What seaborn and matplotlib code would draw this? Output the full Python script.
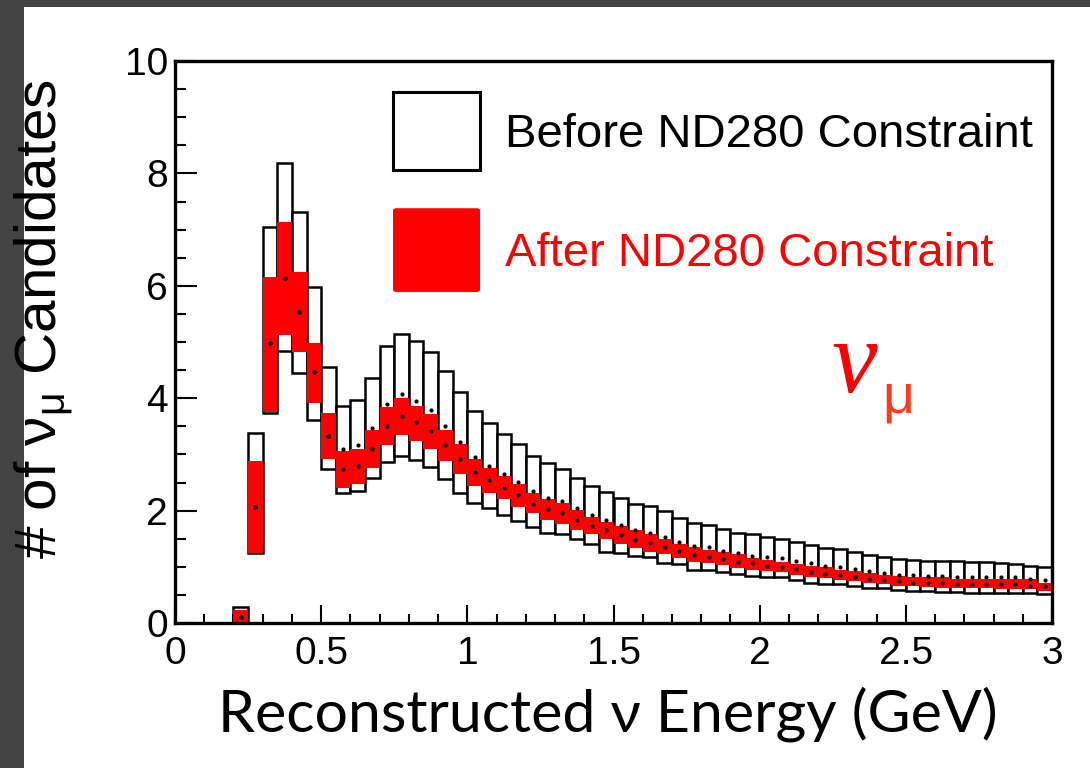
import numpy as np
import pandas as pd
import matplotlib
matplotlib.use("Agg")
import matplotlib.pyplot as plt
import seaborn as sns
from matplotlib.patches import Rectangle, FancyBboxPatch

# bin low edges (GeV), bin width 0.05
bin_low = [0.20, 0.25, 0.30, 0.35, 0.40, 0.45, 0.50, 0.55, 0.60, 0.65,
           0.70, 0.75, 0.80, 0.85, 0.90, 0.95, 1.00, 1.05, 1.10, 1.15,
           1.20, 1.25, 1.30, 1.35, 1.40, 1.45, 1.50, 1.55, 1.60, 1.65,
           1.70, 1.75, 1.80, 1.85, 1.90, 1.95, 2.00, 2.05, 2.10, 2.15,
           2.20, 2.25, 2.30, 2.35, 2.40, 2.45, 2.50, 2.55, 2.60, 2.65,
           2.70, 2.75, 2.80, 2.85, 2.90, 2.95]
bin_width = 0.05

# before ND280 constraint: error band low / high and central value
before_lo = [0.00, 1.24, 3.73, 4.84, 4.45, 3.62, 2.74, 2.31, 2.35, 2.58,
             2.87, 2.98, 2.90, 2.77, 2.56, 2.31, 2.14, 2.04, 1.93, 1.82,
             1.70, 1.60, 1.59, 1.50, 1.40, 1.27, 1.25, 1.19, 1.18, 1.07,
             1.05, 0.95, 0.94, 0.91, 0.87, 0.83, 0.82, 0.81, 0.76, 0.72,
             0.70, 0.69, 0.66, 0.63, 0.62, 0.59, 0.57, 0.57, 0.56, 0.55,
             0.54, 0.54, 0.54, 0.53, 0.53, 0.52]
before_hi = [0.29, 3.38, 7.05, 8.18, 7.32, 5.97, 4.56, 3.86, 3.97, 4.36,
             4.92, 5.15, 5.01, 4.82, 4.48, 4.11, 3.77, 3.56, 3.37, 3.19,
             2.97, 2.84, 2.74, 2.58, 2.44, 2.33, 2.23, 2.11, 2.08, 1.99,
             1.87, 1.78, 1.74, 1.68, 1.61, 1.58, 1.53, 1.49, 1.45, 1.39,
             1.34, 1.31, 1.27, 1.21, 1.17, 1.13, 1.12, 1.11, 1.10, 1.10,
             1.08, 1.08, 1.06, 1.05, 1.02, 1.00]
before_c = [0.10, 2.06, 4.98, 6.13, 5.54, 4.46, 3.33, 3.09, 3.16, 3.47,
            3.89, 4.07, 3.95, 3.79, 3.51, 3.22, 2.96, 2.80, 2.65, 2.51,
            2.34, 2.23, 2.17, 2.04, 1.92, 1.84, 1.75, 1.66, 1.61, 1.53,
            1.44, 1.37, 1.35, 1.29, 1.25, 1.20, 1.18, 1.16, 1.11, 1.06,
            1.02, 0.99, 0.96, 0.92, 0.89, 0.86, 0.85, 0.84, 0.84, 0.82,
            0.82, 0.81, 0.81, 0.81, 0.78, 0.77]

# after ND280 constraint
after_lo = [0.00, 1.24, 3.75, 5.12, 4.82, 3.92, 2.91, 2.40, 2.47, 2.76,
            3.16, 3.34, 3.24, 3.10, 2.88, 2.66, 2.44, 2.31, 2.20, 2.07,
            1.95, 1.84, 1.76, 1.65, 1.58, 1.49, 1.40, 1.33, 1.27, 1.23,
            1.15, 1.09, 1.06, 1.04, 0.97, 0.95, 0.93, 0.91, 0.86, 0.82,
            0.80, 0.77, 0.75, 0.72, 0.69, 0.66, 0.66, 0.64, 0.63, 0.63,
            0.62, 0.62, 0.61, 0.61, 0.60, 0.57]
after_hi = [0.24, 2.88, 6.16, 7.13, 6.25, 4.99, 3.73, 3.06, 3.10, 3.43,
            3.85, 4.00, 3.87, 3.71, 3.44, 3.18, 2.91, 2.75, 2.61, 2.48,
            2.31, 2.20, 2.13, 2.01, 1.89, 1.80, 1.72, 1.65, 1.58, 1.50,
            1.40, 1.36, 1.30, 1.26, 1.22, 1.15, 1.12, 1.09, 1.05, 1.01,
            0.99, 0.95, 0.93, 0.89, 0.86, 0.83, 0.82, 0.81, 0.81, 0.79,
            0.79, 0.79, 0.79, 0.79, 0.78, 0.72]
after_c = [0.10, 2.06, 4.98, 6.13, 5.54, 4.46, 3.33, 2.74, 2.79, 3.10,
           3.50, 3.68, 3.57, 3.41, 3.17, 2.91, 2.68, 2.54, 2.40, 2.27,
           2.12, 2.02, 1.95, 1.84, 1.73, 1.65, 1.56, 1.47, 1.43, 1.36,
           1.28, 1.21, 1.18, 1.14, 1.09, 1.06, 1.02, 1.00, 0.96, 0.91,
           0.88, 0.86, 0.82, 0.79, 0.76, 0.75, 0.72, 0.72, 0.71, 0.70,
           0.70, 0.70, 0.69, 0.69, 0.66, 0.65]

labels = ["Before ND280 Constraint", "After ND280 Constraint"]

sns.set_theme(style="ticks")
plt.rcParams["font.family"] = ["Liberation Sans", "DejaVu Sans"]
plt.rcParams["mathtext.fontset"] = "custom"
plt.rcParams["mathtext.rm"] = "Liberation Sans"
plt.rcParams["mathtext.it"] = "Liberation Sans"

fig = plt.figure(figsize=(10.9, 7.68), dpi=100, facecolor="#434343")
fig.patches.append(Rectangle((24 / 1090, 0), 1, 761 / 768, transform=fig.transFigure,
                             facecolor="white", edgecolor="none", zorder=-10))
ax = fig.add_axes([175 / 1090, 145 / 768, 877 / 1090, 562 / 768])
ax.set_facecolor("white")

df = pd.DataFrame({
    "low": bin_low, "b_lo": before_lo, "b_hi": before_hi, "b_c": before_c,
    "a_lo": after_lo, "a_hi": after_hi, "a_c": after_c,
})
df["center"] = df["low"] + bin_width / 2

# boxes
ax.bar(df["low"], df["b_hi"] - df["b_lo"], bottom=df["b_lo"], width=bin_width,
       align="edge", facecolor="white", edgecolor="black", linewidth=1.8, zorder=2)
ax.bar(df["low"], df["a_hi"] - df["a_lo"], bottom=df["a_lo"], width=bin_width,
       align="edge", color="#ff0000", linewidth=0, zorder=3)

# central values
sns.scatterplot(data=df, x="center", y="b_c", color="black", s=9, linewidth=0,
                marker="o", ax=ax, zorder=4)
sns.scatterplot(data=df, x="center", y="a_c", color="black", s=9, linewidth=0,
                marker="o", ax=ax, zorder=4)

ax.set_xlim(0, 3)
ax.set_ylim(0, 10)
ax.set_xticks([0, 0.5, 1, 1.5, 2, 2.5, 3])
ax.set_xticklabels(["0", "0.5", "1", "1.5", "2", "2.5", "3"])
ax.set_xticks(np.arange(0, 3.01, 0.1), minor=True)
ax.set_yticks([0, 2, 4, 6, 8, 10])
ax.set_yticks(np.arange(0, 10.01, 0.5), minor=True)

for s in ax.spines.values():
    s.set_linewidth(2.4)
    s.set_color("black")
    s.set_zorder(6)

ax.tick_params(axis="both", which="both", direction="in", width=1.5, colors="black",
               labelsize=28, top=False, right=False)
ax.tick_params(axis="x", which="major", length=13, pad=9)
ax.tick_params(axis="x", which="minor", length=6.5)
ax.tick_params(axis="y", which="major", length=16, pad=5)
ax.tick_params(axis="y", which="minor", length=8)

ax.set_xlabel("")
ax.set_ylabel(r"# of $\mathrm{\nu_{\mu}}$ Candidates", fontsize=42, color="black")
ax.yaxis.set_label_coords(-0.114, 0.54)

ax.text(0.494, -0.163, "Reconstructed ν Energy (GeV)", transform=ax.transAxes,
        ha="center", va="center", fontsize=42.5, color="black",
        family=["Lato", "DejaVu Sans"])

# legend
ax.add_patch(Rectangle((0.2486, 0.806), 0.0992, 0.139, transform=ax.transAxes,
                       facecolor="white", edgecolor="black", linewidth=2.2,
                       clip_on=False, zorder=5))
ax.add_patch(FancyBboxPatch((0.2486, 0.589), 0.0992, 0.149, transform=ax.transAxes,
                            boxstyle="round,pad=0,rounding_size=0.004",
                            facecolor="#ff0000", edgecolor="none",
                            clip_on=False, zorder=5))
ax.text(0.376, 0.868, labels[0], transform=ax.transAxes, fontsize=34,
        color="black", va="center", ha="left")
ax.text(0.376, 0.656, labels[1], transform=ax.transAxes, fontsize=34,
        color="#ff0000", va="center", ha="left")

# nu_mu tag
ax.text(0.749, 0.411, "ν", transform=ax.transAxes, fontsize=74, color="#ff0000",
        family=["Liberation Serif", "DejaVu Serif"], style="italic", va="baseline")
ax.text(0.807, 0.374, "μ", transform=ax.transAxes, fontsize=40, color="#ff3a1a",
        va="baseline")

fig.savefig("out.png", dpi=100, facecolor=fig.get_facecolor())
